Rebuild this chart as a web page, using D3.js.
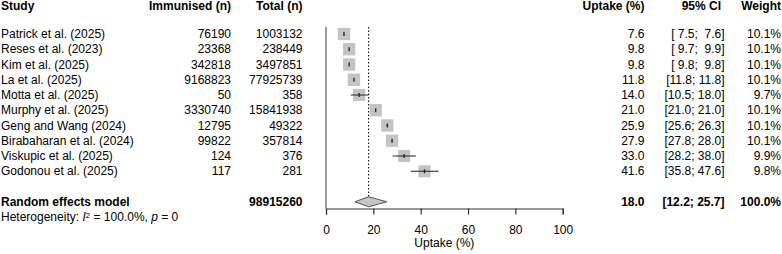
<!DOCTYPE html>
<html>
<head>
<meta charset="utf-8">
<script src="https://cdn.jsdelivr.net/npm/d3@7"></script>
<style>
  body { margin: 0; background: #fff; }
  svg { font-family: "Liberation Sans", Arial, sans-serif; font-size: 12px; }
  text { white-space: pre; }
</style>
</head>
<body>
<div id="chart"></div>
<script>
const width = 782, height = 254;

// study data
const studies = ["Patrick et al. (2025)", "Reses et al. (2023)", "Kim et al. (2025)", "La et al. (2025)",
  "Motta et al. (2025)", "Murphy et al. (2025)", "Geng and Wang (2024)", "Birabaharan et al. (2024)",
  "Viskupic et al. (2025)", "Godonou et al. (2025)"];
const immunised = [76190, 23368, 342818, 9168823, 50, 3330740, 12795, 99822, 124, 117];
const totals = [1003132, 238449, 3497851, 77925739, 358, 15841938, 49322, 357814, 376, 281];
const uptake = [7.6, 9.8, 9.8, 11.8, 14.0, 21.0, 25.9, 27.9, 33.0, 41.6];
const ciLow = [7.5, 9.7, 9.8, 11.8, 10.5, 21.0, 25.6, 27.8, 28.2, 35.8];
const ciHigh = [7.6, 9.9, 9.8, 11.8, 18.0, 21.0, 26.3, 28.0, 38.0, 47.6];
const weights = [10.1, 10.1, 10.1, 10.1, 9.7, 10.1, 10.1, 10.1, 9.9, 9.8];

// pooled estimate
const pooledTotal = 98915260;
const pooled = { est: 18.0, lo: 12.2, hi: 25.7, weight: 100.0 };
const xTicks = [0, 20, 40, 60, 80, 100];

const svg = d3.select("#chart").append("svg")
  .attr("width", width).attr("height", height);

const x = d3.scaleLinear().domain([0, 100]).range([326, 562.7]);
// rows 0..9 studies, 11 pooled, 12 heterogeneity
const y = d3.scaleLinear().domain([0, 12]).range([34, 217]);

const col = { study: 1, imm: 231, total: 302.5, upt: 644.5, ci: 724.5, w: 781 };
const headerY = 10;

const f1 = d3.format(".1f");
const pad = v => { let s = f1(v); while (s.length < 4) s = " " + s; return s; };
const ciText = (lo, hi) => `[${pad(lo)}; ${pad(hi)}]`;

// headers
const headers = [
  { t: "Study", x: col.study, a: "start" },
  { t: "Immunised (n)", x: col.imm, a: "end" },
  { t: "Total (n)", x: col.total, a: "end" },
  { t: "Uptake (%)", x: col.upt, a: "end" },
  { t: "95% CI", x: 721, a: "end" },
  { t: "Weight", x: col.w, a: "end" }
];
svg.append("g").selectAll("text").data(headers).join("text")
  .attr("x", d => d.x).attr("y", headerY)
  .attr("text-anchor", d => d.a)
  .attr("font-weight", "bold")
  .text(d => d.t);

// study rows text
const rows = svg.append("g").selectAll("g").data(studies).join("g")
  .attr("transform", (d, i) => `translate(0,${y(i)})`);
rows.append("text").attr("x", col.study).attr("dy", "0.35em").text(d => d);
rows.append("text").attr("x", col.imm).attr("dy", "0.35em").attr("text-anchor", "end").text((d, i) => immunised[i]);
rows.append("text").attr("x", col.total).attr("dy", "0.35em").attr("text-anchor", "end").text((d, i) => totals[i]);
rows.append("text").attr("x", col.upt).attr("dy", "0.35em").attr("text-anchor", "end").text((d, i) => f1(uptake[i]));
rows.append("text").attr("x", col.ci).attr("dy", "0.35em").attr("text-anchor", "end").text((d, i) => ciText(ciLow[i], ciHigh[i]));
rows.append("text").attr("x", col.w).attr("dy", "0.35em").attr("text-anchor", "end").text((d, i) => f1(weights[i]) + "%");

// pooled row text
const pg = svg.append("g").attr("transform", `translate(0,${y(11)})`).attr("font-weight", "bold");
pg.append("text").attr("x", col.study).attr("dy", "0.35em").text("Random effects model");
pg.append("text").attr("x", col.total).attr("dy", "0.35em").attr("text-anchor", "end").text(pooledTotal);
pg.append("text").attr("x", col.upt).attr("dy", "0.35em").attr("text-anchor", "end").text(f1(pooled.est));
pg.append("text").attr("x", col.ci).attr("dy", "0.35em").attr("text-anchor", "end").text(ciText(pooled.lo, pooled.hi));
pg.append("text").attr("x", col.w).attr("dy", "0.35em").attr("text-anchor", "end").text(f1(pooled.weight) + "%");

// heterogeneity
const het = svg.append("text").attr("x", col.study).attr("y", y(12)).attr("dy", "0.35em");
het.append("tspan").text("Heterogeneity: ");
het.append("tspan").attr("font-style", "italic").text("I");
het.append("tspan").attr("font-size", "8px").attr("dy", "-0.45em").text("2");
het.append("tspan").attr("dy", "0.3em").text(" = 100.0%, ");
het.append("tspan").attr("font-style", "italic").text("p");
het.append("tspan").text(" = 0");

// left reference line at 0
svg.append("line")
  .attr("x1", x(0)).attr("x2", x(0))
  .attr("y1", 27).attr("y2", 208.5)
  .attr("stroke", "#666").attr("stroke-width", 1.3);

// pooled estimate dotted line
svg.append("line")
  .attr("x1", x(pooled.est)).attr("x2", x(pooled.est))
  .attr("y1", 27).attr("y2", y(11) - 5)
  .attr("stroke", "#000").attr("stroke-width", 1).attr("stroke-dasharray", "1.5,2");

// squares, CI lines
const sq = d => 12.3 * Math.sqrt(d / 10.1);
const marks = svg.append("g").selectAll("g").data(studies).join("g");
marks.append("rect")
  .attr("x", (d, i) => x(uptake[i]) - sq(weights[i]) / 2)
  .attr("y", (d, i) => y(i) - sq(weights[i]) / 2)
  .attr("width", (d, i) => sq(weights[i]))
  .attr("height", (d, i) => sq(weights[i]))
  .attr("fill", "#c4c4c4");
marks.append("line")
  .attr("x1", (d, i) => x(ciLow[i])).attr("x2", (d, i) => x(ciHigh[i]))
  .attr("y1", (d, i) => y(i)).attr("y2", (d, i) => y(i))
  .attr("stroke", "#222").attr("stroke-width", 1);
marks.append("line")
  .attr("x1", (d, i) => x(uptake[i])).attr("x2", (d, i) => x(uptake[i]))
  .attr("y1", (d, i) => y(i) - 2).attr("y2", (d, i) => y(i) + 2)
  .attr("stroke", "#222").attr("stroke-width", 1.3);

// diamond
const yd = y(11);
svg.append("path")
  .attr("d", `M${x(pooled.lo)},${yd} L${x(pooled.est)},${yd - 5} L${x(pooled.hi)},${yd} L${x(pooled.est)},${yd + 5} Z`)
  .attr("fill", "#c4c4c4").attr("stroke", "#555").attr("stroke-width", 1);

// x axis
const axis = svg.append("g")
  .attr("transform", "translate(0,208.5)")
  .call(d3.axisBottom(x).tickValues(xTicks).tickSizeOuter(0).tickSize(6).tickPadding(10.5));
axis.select(".domain").attr("stroke", "#333").attr("stroke-width", 1.2);
axis.selectAll(".tick line").attr("stroke", "#333").attr("stroke-width", 1.2);
axis.selectAll("text").attr("font-size", "12px").attr("font-family", "Liberation Sans, Arial, sans-serif").attr("fill", "#000");

svg.append("text")
  .attr("x", (x(0) + x(100)) / 2).attr("y", 247)
  .attr("text-anchor", "middle")
  .text("Uptake (%)");
</script>
</body>
</html>
